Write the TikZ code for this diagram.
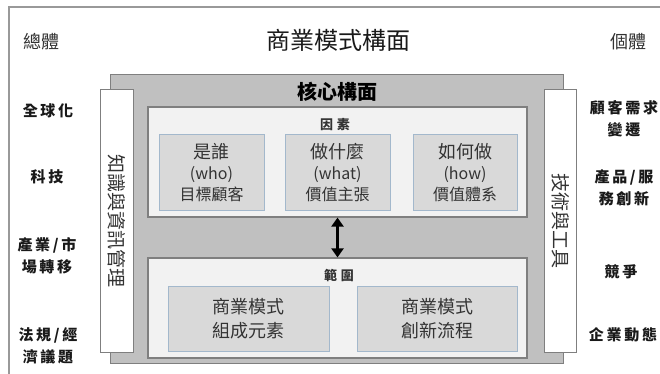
\documentclass[tikz,border=0pt]{standalone}
\usepackage{fontspec}
\setmainfont{Noto Sans CJK TC}
\usetikzlibrary{arrows.meta}
\definecolor{graybg}{HTML}{C0C0C0}
\definecolor{grayline}{HTML}{7F7F7F}
\definecolor{panel}{HTML}{F2F2F2}
\definecolor{subfill}{HTML}{D9D9D9}
\definecolor{subline}{HTML}{A3B8CC}
\definecolor{txt}{HTML}{333333}
\begin{document}
\begin{tikzpicture}[x=1pt,y=-1pt,
  fs/.style n args={2}{font=\fontsize{#1}{#2}\selectfont},
  sidebox/.style={draw=grayline,line width=1pt,fill=white,inner sep=0pt},
  panelbox/.style={draw=grayline,line width=1.2pt,fill=panel,inner sep=0pt},
  subbox/.style={draw=subline,line width=1pt,fill=subfill,inner sep=0pt,align=center,text=txt,fs={16}{21}},
  sidelabel/.style={align=center,font=\fontsize{15}{22}\selectfont\bfseries\addfontfeature{LetterSpace=18},text=black!90},
  toplabel/.style={text=txt,fs={18}{22}},
  paneltitle/.style={font=\fontsize{13}{15}\selectfont\bfseries\addfontfeature{LetterSpace=30},text=black!80}
]
\useasboundingbox (0,0) rectangle (660,374);
\fill[white] (0,0) rectangle (660,374);
\draw[color=gray!80,line width=1.2pt] (9,7) rectangle (690,400);

% titles
\node[font=\fontsize{24}{26}\selectfont,text=black!90] (title) at (338,40) {商業模式構面};
\node[toplabel] (macro) at (41,42) {總體};
\node[toplabel] (micro) at (628,42) {個體};

% core gray box
\node[draw=grayline,line width=1pt,fill=graybg,minimum width=453pt,minimum height=288pt,inner sep=0pt] (core) at (336.5,219) {};
\node[font=\fontsize{20}{22}\selectfont\bfseries,text=black] (coretitle) at (337,92) {核心構面};

% side vertical boxes
\node[sidebox,minimum width=33pt,minimum height=262pt] (kim) at (116.5,221) {};
\node[rotate=-90,fs={19}{20},text=txt] (kimtxt) at (kim.center) {知識與資訊管理};
\node[sidebox,minimum width=32pt,minimum height=262pt] (tool) at (560.5,221) {};
\node[rotate=-90,fs={19}{20},text=txt] (tooltxt) at (tool.center) {技術與工具};

% factors panel
\node[panelbox,minimum width=379pt,minimum height=110pt] (factors) at (337.5,162) {};
\node[paneltitle] (factorstitle) at (335,125) {因素};
\node[subbox,minimum width=105pt,minimum height=75pt] (who) at (211.5,172.5) {{\fontsize{18}{21}\selectfont 是誰}\\(who)\\目標顧客};
\node[subbox,minimum width=105pt,minimum height=75pt] (what) at (337.5,172.5) {{\fontsize{18}{21}\selectfont 做什麼}\\(what)\\價值主張};
\node[subbox,minimum width=104pt,minimum height=75pt] (how) at (465,172.5) {{\fontsize{18}{21}\selectfont 如何做}\\(how)\\價值體系};

% scope panel
\node[panelbox,minimum width=379pt,minimum height=100pt] (scope) at (337.5,308) {};
\node[paneltitle] (scopetitle) at (339,275) {範圍};
\node[subbox,fs={18}{24},minimum width=161pt,minimum height=65pt] (elem) at (248.5,318.5) {商業模式\\組成元素};
\node[subbox,fs={18}{24},minimum width=160pt,minimum height=65pt] (innov) at (437,318.5) {商業模式\\創新流程};

% double arrow
\draw[line width=3pt,{Triangle[width=12pt,length=9pt]}-{Triangle[width=12pt,length=9pt]}] (factors.south) -- (scope.north);

% left labels
\node[sidelabel] (l1) at (48,111) {全球化};
\node[sidelabel] (l2) at (47,177) {科技};
\node[sidelabel] (l3) at (47,256) {產業/市\\場轉移};
\node[sidelabel] (l4) at (48,346) {法規/經\\濟議題};

% right labels
\node[sidelabel] (r1) at (624,119) {顧客需求\\變遷};
\node[sidelabel] (r2) at (624,188) {產品/服\\務創新};
\node[sidelabel] (r3) at (621,272) {競爭};
\node[sidelabel] (r4) at (623,335) {企業動態};
\end{tikzpicture}
\end{document}
